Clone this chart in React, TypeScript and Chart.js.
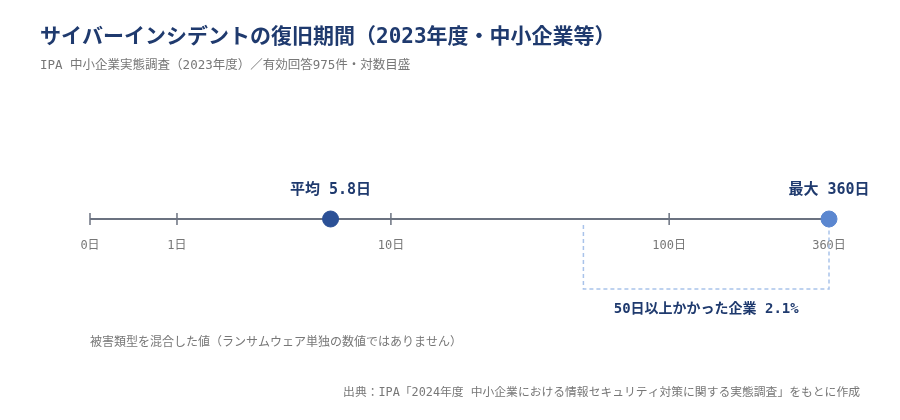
import React, { useEffect, useRef } from 'react';
import { Chart, registerables, LinearScale } from 'chart.js';

// Recovery time in days (axis is log(1 + days))
const TICK_DAYS = [0, 1, 10, 100, 360];
const MEAN_DAYS = [5.8];
const MAX_DAYS = [360];
const LONG_THRESHOLD_DAYS = [50, 360];
const LONG_SHARE_PCT = 2.1;

const TITLE = 'サイバーインシデントの復旧期間（2023年度・中小企業等）';
const SUBTITLE = 'IPA 中小企業実態調査（2023年度）／有効回答975件・対数目盛';
const NOTE = '被害類型を混合した値（ランサムウェア単独の数値ではありません）';
const SOURCE = '出典：IPA「2024年度 中小企業における情報セキュリティ対策に関する実態調査」をもとに作成';

const FONT = "'DejaVu Sans Mono', 'Noto Sans CJK JP', monospace";
const NAVY = '#1f3a6e';
const MEAN_COLOR = '#2b5096';
const MAX_COLOR = '#5b87d0';
const AXIS_COLOR = '#6b7280';
const BRACKET_COLOR = '#a9c3ea';
const GRAY = '#777777';

// log10(1 + x) scale built on the linear one
class Log1pScale extends LinearScale {
  static id = 'log1p';
  static defaults = LinearScale.defaults;

  getPixelForValue(value: number) {
    const a = Math.log10(1 + this.min);
    const b = Math.log10(1 + this.max);
    return this.getPixelForDecimal((Math.log10(1 + value) - a) / (b - a));
  }

  getValueForPixel(pixel: number) {
    const a = Math.log10(1 + this.min);
    const b = Math.log10(1 + this.max);
    return Math.pow(10, a + this.getDecimalForPixel(pixel) * (b - a)) - 1;
  }
}

Chart.register(...registerables, Log1pScale);

const annotations = {
  id: 'annotations',
  beforeDatasetsDraw(chart: any) {
    const { ctx } = chart;
    const x = chart.scales.x;
    const y0 = chart.scales.y.getPixelForValue(0);
    ctx.save();
    // axis line
    ctx.strokeStyle = AXIS_COLOR;
    ctx.lineWidth = 2;
    ctx.beginPath();
    ctx.moveTo(x.getPixelForValue(TICK_DAYS[0]), y0);
    ctx.lineTo(x.getPixelForValue(TICK_DAYS[TICK_DAYS.length - 1]), y0);
    ctx.stroke();
    // tick marks
    ctx.lineWidth = 1.5;
    x.ticks.forEach((t: any) => {
      const px = x.getPixelForValue(t.value);
      ctx.beginPath();
      ctx.moveTo(px, y0 - 6);
      ctx.lineTo(px, y0 + 6);
      ctx.stroke();
    });
    // bracket for 50+ days
    const bx1 = x.getPixelForValue(LONG_THRESHOLD_DAYS[0]);
    const bx2 = x.getPixelForValue(LONG_THRESHOLD_DAYS[1]);
    ctx.strokeStyle = BRACKET_COLOR;
    ctx.lineWidth = 1.5;
    ctx.setLineDash([4, 3]);
    ctx.beginPath();
    ctx.moveTo(bx1, y0 + 6);
    ctx.lineTo(bx1, 289);
    ctx.lineTo(bx2, 289);
    ctx.lineTo(bx2, y0 + 6);
    ctx.stroke();
    ctx.restore();
  },
  afterDraw(chart: any) {
    const { ctx } = chart;
    const x = chart.scales.x;
    ctx.save();
    ctx.textBaseline = 'middle';

    ctx.fillStyle = NAVY;
    ctx.textAlign = 'center';
    ctx.font = `bold 15px ${FONT}`;
    ctx.fillText(`平均 ${MEAN_DAYS[0]}日`, x.getPixelForValue(MEAN_DAYS[0]), 190);
    ctx.fillText(`最大 ${MAX_DAYS[0]}日`, x.getPixelForValue(MAX_DAYS[0]), 190);
    ctx.font = `bold 14px ${FONT}`;
    const mid = (x.getPixelForValue(LONG_THRESHOLD_DAYS[0]) + x.getPixelForValue(LONG_THRESHOLD_DAYS[1])) / 2;
    ctx.fillText(`${LONG_THRESHOLD_DAYS[0]}日以上かかった企業 ${LONG_SHARE_PCT}%`, mid, 309);

    ctx.textAlign = 'left';
    ctx.font = `bold 21px ${FONT}`;
    ctx.fillText(TITLE, 40, 38);
    ctx.fillStyle = GRAY;
    ctx.font = `12.5px ${FONT}`;
    ctx.fillText(SUBTITLE, 40, 66);
    ctx.font = `12px ${FONT}`;
    ctx.fillText(NOTE, 90, 343);
    ctx.textAlign = 'right';
    ctx.font = `11.8px ${FONT}`;
    ctx.fillText(SOURCE, 860, 393);
    ctx.restore();
  },
};

const RecoveryChart: React.FC = () => {
  const chartRef = useRef<HTMLCanvasElement>(null);
  const chartInstanceRef = useRef<Chart | null>(null);

  useEffect(() => {
    document.body.style.margin = '0';
    if (!chartRef.current) return;
    const ctx = chartRef.current.getContext('2d');
    if (!ctx) return;

    chartInstanceRef.current = new Chart(ctx, {
      type: 'scatter',
      data: {
        datasets: [
          {
            label: '平均',
            data: MEAN_DAYS.map(d => ({ x: d, y: 0 })),
            backgroundColor: MEAN_COLOR,
            borderColor: MEAN_COLOR,
            pointRadius: 8,
            clip: false,
          },
          {
            label: '最大',
            data: MAX_DAYS.map(d => ({ x: d, y: 0 })),
            backgroundColor: MAX_COLOR,
            borderColor: MAX_COLOR,
            pointRadius: 8,
            clip: false,
          },
        ],
      },
      options: {
        animation: false,
        responsive: true,
        maintainAspectRatio: false,
        layout: { padding: { left: 90, right: 71, top: 150, bottom: 146.6 } },
        plugins: {
          legend: { display: false },
          tooltip: { enabled: false },
        },
        scales: {
          x: {
            type: 'log1p' as any,
            min: TICK_DAYS[0],
            max: TICK_DAYS[TICK_DAYS.length - 1],
            position: 'bottom',
            afterBuildTicks: (scale: any) => {
              scale.ticks = TICK_DAYS.map(v => ({ value: v }));
            },
            grid: { display: false, drawTicks: false },
            border: { display: false },
            ticks: {
              autoSkip: false,
              maxRotation: 0,
              padding: 20,
              color: GRAY,
              font: { family: FONT, size: 12 },
              callback: (value: any) => `${value}日`,
            },
          },
          y: { display: false, min: 0, max: 1 },
        },
      },
      plugins: [annotations],
    });

    return () => {
      if (chartInstanceRef.current) {
        chartInstanceRef.current.destroy();
      }
    };
  }, []);

  return (
    <div style={{ position: 'relative', width: 900, height: 420 }}>
      <canvas ref={chartRef}></canvas>
    </div>
  );
};

export default function App() {
  return <RecoveryChart />;
}
